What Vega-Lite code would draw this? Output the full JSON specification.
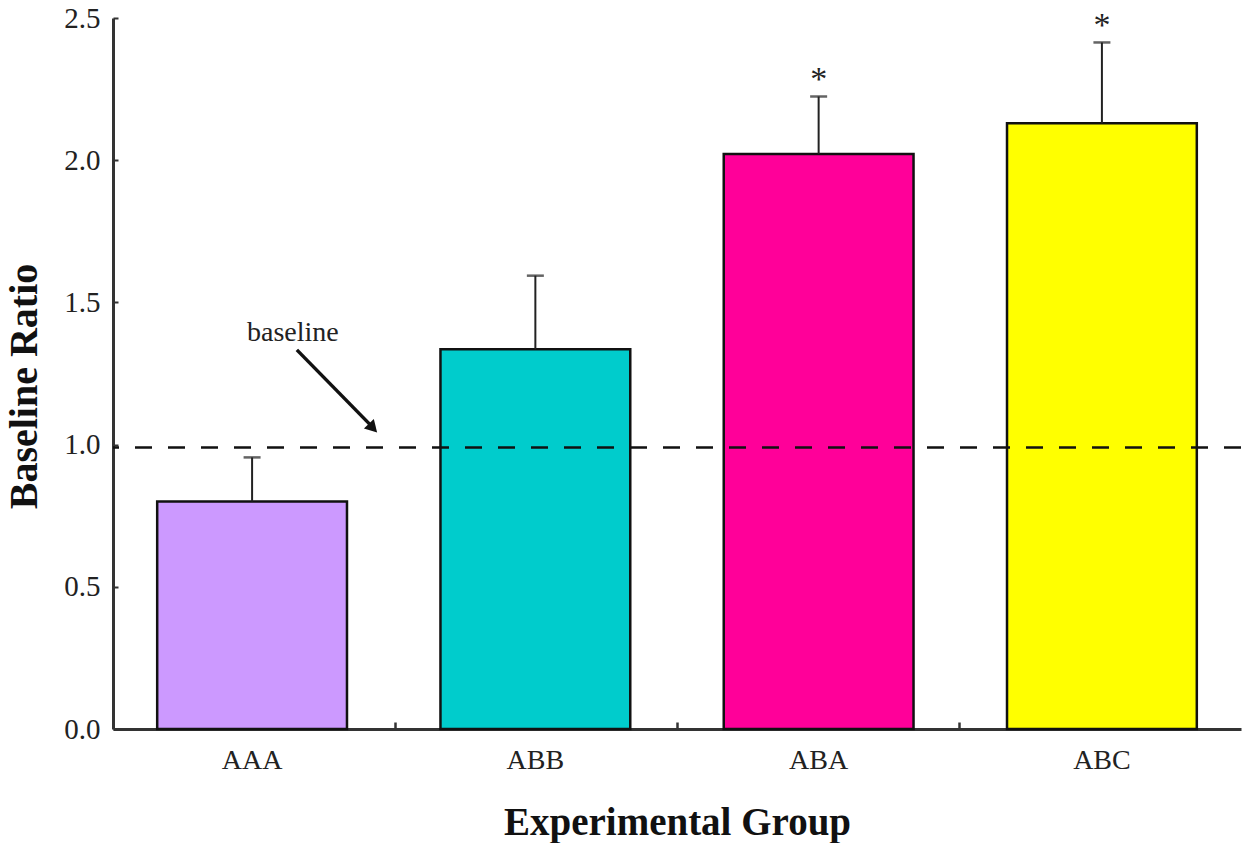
{
  "$schema": "https://vega.github.io/schema/vega-lite/v6.json",
  "autosize": "none",
  "width": 1128,
  "height": 711,
  "padding": {"left": 113, "top": 18, "right": 3, "bottom": 114},
  "background": "white",
  "config": {"view": {"stroke": null}, "font": "Liberation Serif", "axis": {"grid": false}},
  "datasets": {
    "groups": [
      {"group": "AAA", "value": 0.80, "upper": 0.955, "star": ""},
      {"group": "ABB", "value": 1.335, "upper": 1.594, "star": ""},
      {"group": "ABA", "value": 2.022, "upper": 2.224, "star": "*"},
      {"group": "ABC", "value": 2.13, "upper": 2.414, "star": "*"}
    ],
    "baseline": [{"value": 0.99}],
    "annot": [
      {"kind": "label", "text": "baseline", "x": 0.638, "value": 1.392},
      {"kind": "arrow", "x": 0.652, "value": 1.333, "x2": 0.91, "upper": 1.072},
      {"kind": "head", "x": 0.922, "value": 1.058}
    ]
  },
  "resolve": {"scale": {"x": "independent"}},
  "layer": [
    {
      "data": {"name": "groups"},
      "encoding": {
        "x": {
          "field": "group",
          "type": "nominal",
          "sort": ["AAA", "ABB", "ABA", "ABC"],
          "scale": {"paddingInner": 0.33, "paddingOuter": 0.156},
          "axis": {
            "title": "Experimental Group",
            "titleFontSize": 39,
            "titleFontWeight": "bold",
            "titleColor": "#111",
            "titlePadding": 29,
            "labelFontSize": 28,
            "labelColor": "#222",
            "labelPadding": 17,
            "labelAngle": 0,
            "ticks": false,
            "domain": true,
            "domainWidth": 3,
            "domainColor": "#333"
          }
        }
      },
      "layer": [
        {
          "mark": {"type": "bar", "stroke": "#111", "strokeWidth": 2.5},
          "encoding": {
            "y": {
              "field": "value",
              "type": "quantitative",
              "scale": {"domain": [0, 2.5], "nice": false},
              "axis": {
                "title": "Baseline Ratio",
                "titleFontSize": 40,
                "titleFontWeight": "bold",
                "titleColor": "#111",
                "titlePadding": 19,
                "titleY": 368,
                "values": [0, 0.5, 1, 1.5, 2, 2.5],
                "format": ".1f",
                "labelFontSize": 29,
                "labelColor": "#222",
                "labelPadding": 18,
                "tickSize": -5,
                "tickWidth": 2,
                "tickColor": "#333",
                "domainWidth": 3,
                "domainColor": "#333"
              }
            },
            "color": {
              "field": "group",
              "type": "nominal",
              "scale": {"domain": ["AAA", "ABB", "ABA", "ABC"], "range": ["#CC99FF", "#00CCCC", "#FF0099", "#FFFF00"]},
              "legend": null
            }
          }
        },
        {
          "mark": {"type": "rule", "color": "#222", "strokeWidth": 2},
          "encoding": {
            "y": {"field": "value", "type": "quantitative"},
            "y2": {"field": "upper"}
          }
        },
        {
          "mark": {"type": "tick", "color": "#222", "size": 17, "thickness": 2.5},
          "encoding": {
            "y": {"field": "upper", "type": "quantitative"}
          }
        },
        {
          "transform": [{"filter": "datum.star == '*'"}],
          "mark": {"type": "text", "fontSize": 34, "baseline": "alphabetic", "dy": -6, "color": "#222", "font": "Liberation Serif"},
          "encoding": {
            "y": {"field": "upper", "type": "quantitative"},
            "text": {"field": "star"}
          }
        }
      ]
    },
    {
      "data": {"name": "baseline"},
      "mark": {"type": "rule", "strokeDash": [17, 16], "strokeWidth": 2.5, "color": "#111"},
      "encoding": {
        "y": {"field": "value", "type": "quantitative"}
      }
    },
    {
      "data": {"name": "annot"},
      "encoding": {
        "x": {
          "field": "x",
          "type": "quantitative",
          "scale": {"domain": [0, 4], "nice": false, "zero": false},
          "axis": {
            "orient": "bottom",
            "values": [1, 2, 3],
            "labels": false,
            "domain": false,
            "ticks": true,
            "tickSize": -7,
            "tickWidth": 2.5,
            "tickColor": "#333",
            "title": null
          }
        },
        "y": {"field": "value", "type": "quantitative"}
      },
      "layer": [
        {
          "transform": [{"filter": "datum.kind == 'label'"}],
          "mark": {"type": "text", "fontSize": 28, "color": "#222", "font": "Liberation Serif"},
          "encoding": {"text": {"field": "text"}}
        },
        {
          "transform": [{"filter": "datum.kind == 'arrow'"}],
          "mark": {"type": "rule", "color": "#111", "strokeWidth": 3.5},
          "encoding": {"x2": {"field": "x2"}, "y2": {"field": "upper"}}
        },
        {
          "transform": [{"filter": "datum.kind == 'head'"}],
          "mark": {"type": "point", "shape": "triangle-up", "filled": true, "color": "#111", "size": 190, "angle": 136, "opacity": 1}
        }
      ]
    }
  ]
}
